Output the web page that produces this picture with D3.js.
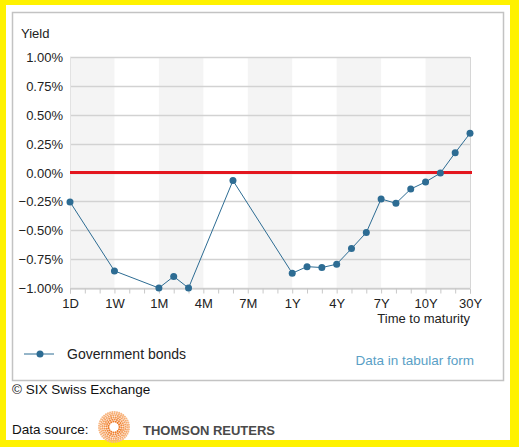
<!DOCTYPE html>
<html>
<head>
<meta charset="utf-8">
<script src="https://cdn.jsdelivr.net/npm/d3@7"></script>
<style>
  body { margin: 0; background: #fff; }
  svg text { font-family: "Liberation Sans", Arial, sans-serif; }
</style>
</head>
<body>
<div id="chart"></div>
<script>
// maturities on the category axis (only every third one gets a label)
const maturities = ["1D", "2D", "3D", "1W", "2W", "3W", "1M", "2M", "3M", "4M", "5M", "6M", "7M", "8M", "9M",
  "1Y", "2Y", "3Y", "4Y", "5Y", "6Y", "7Y", "8Y", "9Y", "10Y", "15Y", "20Y", "30Y"];
const tickLabels = ["1D", "1W", "1M", "4M", "7M", "1Y", "4Y", "7Y", "10Y", "30Y"];
// yield in %, null where there is no quote
const yields = [-0.255, null, null, -0.852, null, null, -1.00, -0.90, -1.00, null, null, -0.07, null, null, null,
  -0.872, -0.815, -0.823, -0.794, -0.659, -0.52, -0.229, -0.267, -0.143, -0.082, -0.005, 0.171, 0.339];
const yTicks = [1.00, 0.75, 0.50, 0.25, 0.00, -0.25, -0.50, -0.75, -1.00];

const W = 519, H = 447;
const plot = { left: 70, right: 470, top: 57, bottom: 288 };

const svg = d3.select("#chart").append("svg")
  .attr("width", W)
  .attr("height", H);

// yellow frame + white page
svg.append("rect").attr("width", W).attr("height", H).attr("fill", "#fff200");
svg.append("rect").attr("x", 6).attr("y", 5).attr("width", 504).attr("height", 435).attr("fill", "#fff");

// chart box
svg.append("rect")
  .attr("x", 12.5).attr("y", 12.5)
  .attr("width", 491).attr("height", 368)
  .attr("fill", "#fff")
  .attr("stroke", "#c3c3c3")
  .attr("stroke-width", 1.5);

const x = d3.scalePoint()
  .domain(maturities)
  .range([plot.left, plot.right]);

const y = d3.scaleLinear()
  .domain([-1, 1])
  .range([plot.bottom, plot.top]);

// alternating column bands between labelled maturities
const bands = d3.pairs(tickLabels).filter((d, i) => i % 2 === 0);
svg.append("g")
  .selectAll("rect")
  .data(bands)
  .enter()
  .append("rect")
  .attr("x", d => x(d[0]))
  .attr("y", plot.top)
  .attr("width", d => x(d[1]) - x(d[0]))
  .attr("height", plot.bottom - plot.top)
  .attr("fill", "#f4f4f4");

// horizontal grid
svg.append("g")
  .selectAll("line")
  .data(yTicks)
  .enter()
  .append("line")
  .attr("x1", plot.left)
  .attr("x2", plot.right)
  .attr("y1", d => Math.round(y(d)) + 0.5)
  .attr("y2", d => Math.round(y(d)) + 0.5)
  .attr("stroke", "#d2d2d2")
  .attr("stroke-width", 1.4);

// left and right frame lines
svg.append("line")
  .attr("x1", plot.left + 0.5).attr("x2", plot.left + 0.5)
  .attr("y1", plot.top).attr("y2", plot.bottom)
  .attr("stroke", "#e2e2e2");
svg.append("line")
  .attr("x1", plot.right + 0.5).attr("x2", plot.right + 0.5)
  .attr("y1", plot.top).attr("y2", plot.bottom)
  .attr("stroke", "#d6d6d6");

// y axis labels
svg.append("g")
  .selectAll("text")
  .data(yTicks)
  .enter()
  .append("text")
  .attr("x", 63)
  .attr("y", d => y(d) + 5)
  .attr("text-anchor", "end")
  .attr("font-size", 13)
  .attr("fill", "#222")
  .text(d => d3.format(".2f")(d) + "%");

svg.append("text")
  .attr("x", 21).attr("y", 38)
  .attr("font-size", 13)
  .attr("fill", "#222")
  .text("Yield");

// x axis
const xAxis = svg.append("g")
  .attr("transform", `translate(0,${plot.bottom + 0.5})`)
  .call(d3.axisBottom(x).tickSize(5).tickFormat(d => tickLabels.includes(d) ? d : ""));
xAxis.select(".domain").attr("stroke", "#c8c8c8");
xAxis.selectAll(".tick line").attr("stroke", "#c8c8c8");
xAxis.selectAll(".tick text")
  .attr("font-size", 13)
  .attr("font-family", "Liberation Sans, Arial, sans-serif")
  .attr("fill", "#222")
  .attr("dy", "0.85em");

svg.append("text")
  .attr("x", plot.right)
  .attr("y", 323)
  .attr("text-anchor", "end")
  .attr("font-size", 13)
  .attr("fill", "#222")
  .text("Time to maturity");

// zero line
svg.append("line")
  .attr("x1", plot.left)
  .attr("x2", plot.right + 2)
  .attr("y1", y(0))
  .attr("y2", y(0))
  .attr("stroke", "#e3161e")
  .attr("stroke-width", 3);

// series
const points = maturities
  .map((m, i) => ({ maturity: m, value: yields[i] }))
  .filter(d => d.value !== null);

const lineColor = "#2d6c93";

svg.append("path")
  .datum(points)
  .attr("fill", "none")
  .attr("stroke", lineColor)
  .attr("stroke-width", 1)
  .attr("d", d3.line().x(d => x(d.maturity)).y(d => y(d.value)));

svg.append("g")
  .selectAll("circle")
  .data(points)
  .enter()
  .append("circle")
  .attr("cx", d => x(d.maturity))
  .attr("cy", d => y(d.value))
  .attr("r", 3.5)
  .attr("fill", lineColor);

// legend
const legend = svg.append("g").attr("transform", "translate(24,354)");
legend.append("line")
  .attr("x1", 0).attr("x2", 30)
  .attr("stroke", lineColor)
  .attr("stroke-width", 1);
legend.append("circle").attr("cx", 16).attr("r", 3.5).attr("fill", lineColor);
legend.append("text")
  .attr("x", 43).attr("y", 5)
  .attr("font-size", 14)
  .attr("fill", "#222")
  .text("Government bonds");

svg.append("text")
  .attr("x", 474).attr("y", 365)
  .attr("text-anchor", "end")
  .attr("font-size", 13.5)
  .attr("fill", "#5a9fc6")
  .text("Data in tabular form");

// footer
svg.append("text")
  .attr("x", 12).attr("y", 394)
  .attr("font-size", 13.5)
  .attr("fill", "#111")
  .text("© SIX Swiss Exchange");

svg.append("text")
  .attr("x", 12).attr("y", 434)
  .attr("font-size", 13.5)
  .attr("fill", "#111")
  .text("Data source:");

// Thomson Reuters mark: disc of orange dots around a white hole
const logo = svg.append("g").attr("transform", "translate(114,427)");
const rings = [5.5, 7.5, 9.5, 11.5, 13.3, 15];
const ringColor = d3.scaleLinear().domain([5.5, 15]).range(["#ee7a26", "#f8b783"]);
rings.forEach((r, k) => {
  const n = Math.round(2 * Math.PI * r / 2.3);
  logo.selectAll(null)
    .data(d3.range(n))
    .enter()
    .append("circle")
    .attr("cx", i => r * Math.cos(2 * Math.PI * i / n + k * 0.4))
    .attr("cy", i => r * Math.sin(2 * Math.PI * i / n + k * 0.4))
    .attr("r", 1.05)
    .attr("fill", ringColor(r));
});

svg.append("text")
  .attr("x", 143).attr("y", 435)
  .attr("font-size", 13)
  .attr("font-weight", "bold")
  .attr("fill", "#4a4a4a")
  .attr("textLength", 132)
  .text("THOMSON REUTERS");
</script>
</body>
</html>
